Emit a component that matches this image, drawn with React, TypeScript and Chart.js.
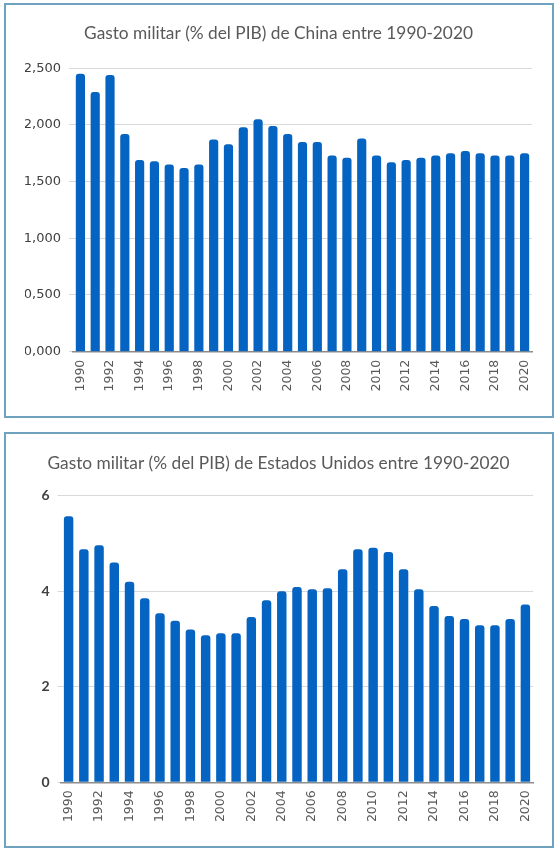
import React, { useEffect, useRef } from "react";
import { Chart, registerables } from "chart.js";

Chart.register(...registerables);

const years = [
  "1990", "1991", "1992", "1993", "1994", "1995", "1996", "1997", "1998", "1999",
  "2000", "2001", "2002", "2003", "2004", "2005", "2006", "2007", "2008", "2009",
  "2010", "2011", "2012", "2013", "2014", "2015", "2016", "2017", "2018", "2019", "2020",
];

const chinaValues = [
  2.45, 2.29, 2.44, 1.92, 1.69, 1.68, 1.65, 1.62, 1.65, 1.87,
  1.83, 1.98, 2.05, 1.99, 1.92, 1.85, 1.85, 1.73, 1.71, 1.88,
  1.73, 1.67, 1.69, 1.71, 1.73, 1.75, 1.77, 1.75, 1.73, 1.73, 1.75,
];

const usaValues = [
  5.57, 4.88, 4.96, 4.60, 4.20, 3.85, 3.54, 3.38, 3.20, 3.08,
  3.12, 3.12, 3.46, 3.81, 4.00, 4.09, 4.04, 4.06, 4.46, 4.88,
  4.91, 4.82, 4.46, 4.04, 3.69, 3.48, 3.42, 3.29, 3.29, 3.42, 3.72,
];

const chinaTitle = "Gasto militar (% del PIB) de China entre 1990-2020";
const usaTitle = "Gasto militar (% del PIB) de Estados Unidos entre 1990-2020";

const BAR = "#0563C1";
const GRID = "#d9d9d9";
const AXIS = "#8c8c8c";
const TEXT = "#595959";

type Cfg = {
  title: string;
  values: number[];
  max: number;
  step: number;
  yFmt: (v: number) => string;
  yFont: any;
  yColor: string;
  width: number;
  height: number;
  padL: number;
  padR: number;
  padB: number;
  yAxisW: number;
  tickLen: number;
  titleTop: number;
  titleBottom: number;
};

function BarChart({ cfg }: { cfg: Cfg }) {
  const ref = useRef<HTMLCanvasElement>(null);
  useEffect(() => {
    if (!ref.current) return;
    const chart = new Chart(ref.current, {
      type: "bar",
      data: {
        labels: years,
        datasets: [
          {
            data: cfg.values,
            backgroundColor: BAR,
            borderRadius: 3,
            barPercentage: 0.62,
            categoryPercentage: 1,
          },
        ],
      },
      options: {
        responsive: false,
        animation: false,
        devicePixelRatio: 1,
        layout: { padding: { left: cfg.padL, right: cfg.padR, top: 0, bottom: cfg.padB } },
        plugins: {
          legend: { display: false },
          tooltip: { enabled: false },
          title: {
            display: true,
            text: cfg.title,
            color: TEXT,
            font: { family: "Lato", size: 17.3, weight: "normal", lineHeight: 1.2 },
            padding: { top: cfg.titleTop, bottom: cfg.titleBottom },
          },
        },
        scales: {
          x: {
            grid: { display: true, drawOnChartArea: false, drawTicks: false },
            border: { display: true, color: AXIS, width: 1.5 },
            ticks: {
              autoSkip: false,
              minRotation: 90,
              maxRotation: 90,
              padding: 8,
              color: TEXT,
              font: { family: "DejaVu Sans", size: 12.5 },
              callback: (_v: any, i: number) => (i % 2 === 0 ? years[i] : ""),
            },
            afterFit: (s: any) => {
              s.height = 60;
            },
          },
          y: {
            min: 0,
            max: cfg.max,
            grid: { color: GRID, lineWidth: 1, drawTicks: true, tickLength: cfg.tickLen },
            border: { display: false },
            ticks: {
              stepSize: cfg.step,
              padding: 8,
              color: cfg.yColor,
              font: cfg.yFont,
              callback: (v: any) => cfg.yFmt(Number(v)),
            },
            afterFit: (s: any) => {
              s.width = cfg.yAxisW;
            },
          },
        },
      },
    });
    return () => chart.destroy();
  }, []);
  return (
    <canvas
      ref={ref}
      width={cfg.width}
      height={cfg.height}
      style={{ display: "block", width: cfg.width, height: cfg.height }}
    />
  );
}

export default function App() {
  const c1: Cfg = {
    title: chinaTitle,
    values: chinaValues,
    max: 2.5,
    step: 0.5,
    yFmt: (v) => v.toFixed(3).replace(".", ","),
    yFont: { family: "DejaVu Sans", size: 13 },
    yColor: "#404040",
    width: 557,
    height: 425,
    padL: 25,
    padR: 25,
    padB: 13.3,
    yAxisW: 48,
    tickLen: 4,
    titleTop: 22.6,
    titleBottom: 24.8,
  };
  const c2: Cfg = {
    title: usaTitle,
    values: usaValues,
    max: 6,
    step: 2,
    yFmt: (v) => String(v),
    yFont: { family: "Lato", size: 14, weight: "bold" },
    yColor: "#404040",
    width: 557,
    height: 424,
    padL: 24,
    padR: 24,
    padB: 6.7,
    yAxisW: 37,
    tickLen: 3.5,
    titleTop: 27.6,
    titleBottom: 22.3,
  };
  const boxStyle = (top: number, height: number): React.CSSProperties => ({
    position: "absolute",
    left: 4,
    top,
    width: 550,
    height,
    boxSizing: "border-box",
    border: "2px solid #6fa2bf",
    background: "#ffffff",
  });
  return (
    <div style={{ position: "absolute", left: 0, top: 0, width: 557, height: 849, background: "#ffffff" }}>
      <div style={boxStyle(3, 415)} />
      <div style={boxStyle(432, 416)} />
      <div style={{ position: "absolute", left: 0, top: 0 }}>
        <BarChart cfg={c1} />
      </div>
      <div style={{ position: "absolute", left: 0, top: 425 }}>
        <BarChart cfg={c2} />
      </div>
    </div>
  );
}
